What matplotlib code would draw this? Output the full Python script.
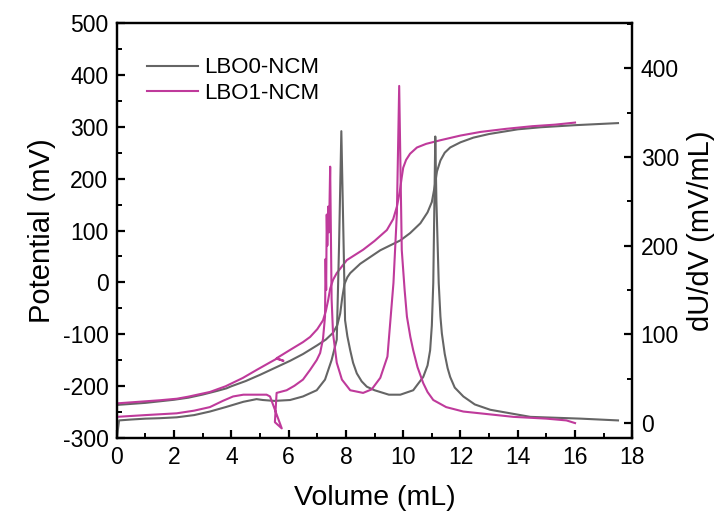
import numpy as np
import matplotlib
matplotlib.use("Agg")
import matplotlib.pyplot as plt
from matplotlib.ticker import MultipleLocator

plt.rcParams['font.family'] = ['Liberation Sans', 'DejaVu Sans']
plt.rcParams['axes.unicode_minus'] = False

# LBO0-NCM potential curve
v0_pot = [0, 0.5, 1, 1.5, 2, 2.5, 3, 3.5, 3.83, 4, 4.5, 5, 5.35, 5.7, 6.05, 6.5, 7.0,
          7.3, 7.55, 7.7, 7.8, 7.87, 7.95, 8.05, 8.15, 8.5, 9.2, 9.9, 10.24, 10.6,
          10.85, 11.0, 11.1, 11.18, 11.3, 11.45, 11.64, 12.0, 12.45, 13.0, 14.0,
          14.8, 16.0, 17.5]
u0_pot = [-236, -234, -232, -229, -226, -222, -216, -209, -204, -200, -190, -178,
          -169, -160, -151, -138, -121, -110, -97, -82, -60, -30, -3, 10, 18, 36,
          62, 81, 95, 114, 135, 155, 185, 214, 235, 250, 260, 270, 279, 286, 295,
          299, 303, 307]

# LBO1-NCM potential curve (volume steps back once near 5.8 mL)
v1_pot = [0, 0.5, 1, 1.5, 2.1, 2.5, 3.25, 3.8, 4.4, 4.9, 5.35, 5.58, 5.82, 5.58,
          6.05, 6.5, 6.75, 7.0, 7.2, 7.3, 7.38, 7.45, 7.55, 7.68, 8.03, 8.6, 9.0,
          9.43, 9.65, 9.78, 9.88, 9.95, 10.0, 10.1, 10.24, 10.48, 10.8, 11.3, 12.0,
          12.7, 13.6, 14.5, 15.3, 16.0]
u1_pot = [-233, -231, -229, -227, -224, -220, -211, -200, -184, -168, -154, -147,
          -151, -146, -130, -115, -105, -90, -73, -55, -34, -12, 5, 18, 43, 63, 80,
          101, 122, 146, 175, 203, 221, 236, 248, 260, 267, 274, 283, 290, 296, 301,
          304, 308]

# LBO0-NCM dU/dV
v0_der = [0, 0.08, 0.5, 1, 1.5, 2.09, 2.7, 3.25, 3.8, 4.42, 4.88, 5.1, 5.5, 6.05,
          6.5, 6.98, 7.27, 7.5, 7.68, 7.76, 7.84, 7.92, 7.97, 8.05, 8.15, 8.25, 8.38,
          8.55, 8.73, 9.0, 9.2, 9.5, 9.9, 10.35, 10.7, 10.85, 10.94, 11.0, 11.05,
          11.09, 11.12, 11.16, 11.24, 11.3, 11.35, 11.45, 11.55, 11.64, 11.8, 12.1,
          12.5, 13.04, 14.44, 16.2, 17.5]
d0_der = [-17, 3, 4, 5, 5.5, 6.5, 9, 13, 18, 24, 27, 26, 25, 26, 30, 37, 49, 71, 94,
          200, 329, 200, 116, 98, 82, 68, 56, 47, 41, 37, 35, 32, 32, 37, 52, 65, 82,
          110, 158, 250, 323, 250, 158, 120, 101, 78, 62, 52, 40, 30, 21, 15, 7, 5, 3]

# LBO1-NCM dU/dV
v1_der = [0, 1, 2.09, 2.7, 3.25, 3.7, 4.06, 4.42, 5.23, 5.35, 5.76, 5.52, 5.58, 5.93,
          6.2, 6.5, 6.75, 6.98, 7.1, 7.2, 7.27, 7.29, 7.31, 7.33, 7.35, 7.38, 7.41,
          7.45, 7.5, 7.55, 7.68, 7.86, 8.15, 8.6, 8.9, 9.2, 9.45, 9.66, 9.78, 9.86,
          9.95, 10.05, 10.13, 10.25, 10.35, 10.5, 10.7, 10.85, 11.05, 11.5, 12.1,
          13.85, 15.0, 15.7, 16.0]
d1_der = [7, 9, 11, 14, 18, 25, 30, 32, 32, 30, -6, 1, 34, 37, 42, 49, 60, 71, 79, 95,
          120, 185, 150, 235, 200, 244, 215, 289, 140, 101, 68, 49, 37, 34, 38, 51, 75,
          158, 237, 380, 195, 150, 120, 97, 82, 63, 45, 35, 26, 18, 13, 7, 5, 3, 0]

gray = '#656565'
pink = '#BF3A9B'

fig = plt.figure(figsize=(7.21, 5.21), dpi=100)
ax = fig.add_axes([0.162, 0.159, 0.715, 0.797])
ax2 = ax.twinx()

ax.plot(v0_pot, u0_pot, color=gray, lw=1.5, label='LBO0-NCM')
ax.plot(v1_pot, u1_pot, color=pink, lw=1.5, label='LBO1-NCM')
ax2.plot(v0_der, d0_der, color=gray, lw=1.5)
ax2.plot(v1_der, d1_der, color=pink, lw=1.5)

ax.set_xlim(0, 18)
ax.set_ylim(-300, 500)
ax2.set_ylim(-17, 451)

ax.xaxis.set_major_locator(MultipleLocator(2))
ax.xaxis.set_minor_locator(MultipleLocator(1))
ax.yaxis.set_major_locator(MultipleLocator(100))
ax.yaxis.set_minor_locator(MultipleLocator(50))
ax2.yaxis.set_major_locator(MultipleLocator(100))
ax2.yaxis.set_minor_locator(MultipleLocator(50))

for a in (ax, ax2):
    for s in a.spines.values():
        s.set_linewidth(1.6)
    a.tick_params(which='major', direction='in', length=6, width=1.6, labelsize=16.5, pad=6)
    a.tick_params(which='minor', direction='in', length=3.5, width=1.4)
ax.tick_params(top=False, right=False, which='both')

ax.set_xlabel('Volume (mL)', fontsize=20.5, labelpad=11)
ax.set_ylabel('Potential (mV)', fontsize=21, labelpad=5)
ax2.set_ylabel('dU/dV (mV/mL)', fontsize=21, labelpad=6)

ax.legend(loc='upper left', bbox_to_anchor=(0.02, 0.965), frameon=False, fontsize=16,
          handlelength=2.3, handletextpad=0.25, labelspacing=0.2)

fig.savefig('out.png', dpi=100)
